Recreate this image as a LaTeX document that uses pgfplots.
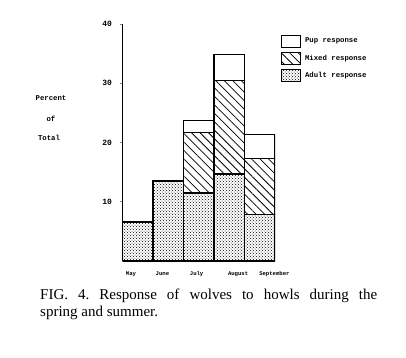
\documentclass[border=0pt]{standalone}
\usepackage{fontspec}
\setmainfont{Liberation Serif}
\setmonofont{Liberation Mono}
\usepackage{pgfplots}
\pgfplotsset{compat=1.18}
\usetikzlibrary{patterns,patterns.meta}
\begin{document}
\frenchspacing
\begin{tikzpicture}
\useasboundingbox (-122.5pt,-96pt) rectangle (283.5pt,261pt);
\begin{axis}[
  scale only axis, width=152.5pt, height=237pt,
  at={(0pt,0pt)}, anchor=south west,
  ybar stacked, bar width=1,
  xmin=-0.5, xmax=4.5, ymin=0, ymax=40,
  axis y line=left, axis x line*=bottom,
  axis line style={-},
  x axis line style={draw=none},
  y axis line style={line width=1.2pt},
  ytick={10,20,30,40}, tick align=outside, major tick length=3pt,
  y tick style={line width=1pt},
  /pgf/number format/assume math mode=true,
  yticklabel style={font=\ttfamily\bfseries\fontsize{8}{9}\selectfont, xshift=-4pt},
  xtick={-0.22,0.81,1.93,3.29,4.48}, xticklabels={May,June,July,August,September},
  xticklabel style={font=\ttfamily\bfseries\fontsize{5.6}{6}\selectfont, yshift=-4pt},
  x tick style={draw=none},
  reverse legend,
  legend cell align=left,
  legend style={draw=none, fill=none, at={(1.04,0.955)}, anchor=north west,
    font=\ttfamily\bfseries\fontsize{7.3}{8}\selectfont,
    row sep=4.5pt, inner sep=0pt, nodes={inner xsep=4pt}},
  legend image code/.code={\draw[#1, line width=0.8pt] (0pt,-6pt) rectangle (19pt,6pt);},
]
\addplot[pattern=crosshatch dots, pattern color=black, draw=black, line width=1.3pt]
  coordinates {(0,6.6) (1,13.5) (2,11.5) (3,14.7) (4,7.8)};
\addlegendentry{Adult response}
\addplot[pattern={Lines[angle=-45, distance=6pt, line width=0.75pt]}, pattern color=black, draw=black, line width=1.3pt]
  coordinates {(0,0) (1,0) (2,10.2) (3,15.8) (4,9.5)};
\addlegendentry{Mixed response}
\addplot[fill=white, draw=black, line width=1.3pt]
  coordinates {(0,0) (1,0) (2,2.0) (3,4.4) (4,4.1)};
\addlegendentry{Pup response}
\end{axis}
\node[font=\ttfamily\bfseries\fontsize{7.3}{8}\selectfont] at (-71.5pt,163pt) {Percent};
\node[font=\ttfamily\bfseries\fontsize{7.3}{8}\selectfont] at (-71.5pt,142pt) {of};
\node[font=\ttfamily\bfseries\fontsize{7.3}{8}\selectfont] at (-73.5pt,123pt) {Total};
\node[anchor=base west, inner sep=0pt, font=\fontsize{15}{17}\selectfont] at (-82.5pt,-38pt) {\makebox[337pt][s]{FIG. 4. Response of wolves to howls during the}};
\node[anchor=base west, inner sep=0pt, font=\fontsize{15}{17}\selectfont] at (-82.5pt,-55pt) {spring and summer.};
\end{tikzpicture}
\end{document}
